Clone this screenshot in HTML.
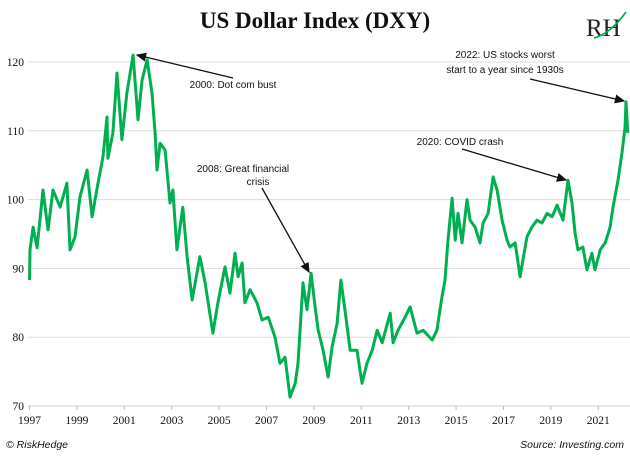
<!DOCTYPE html>
<html><head><meta charset="utf-8"><style>
html,body{margin:0;padding:0;background:#fff;}
body{width:630px;height:456px;overflow:hidden;position:relative;}
svg{position:absolute;left:0;top:0;}
</style></head><body>
<svg width="630" height="456" viewBox="0 0 630 456">
<defs><marker id="ah" markerWidth="8" markerHeight="8" refX="7" refY="4" orient="auto"><path d="M0,0.5 L8,4 L0,7.5 Z" fill="#111"/></marker></defs>
<text x="315" y="28" text-anchor="middle" font-family="Liberation Serif, serif" font-weight="bold" font-size="23" fill="#111">US Dollar Index (DXY)</text>
<g>
<text x="586" y="36" font-family="Liberation Serif, serif" font-size="25" fill="#222">RH</text>
<path d="M594,38 Q610,34 626,12" stroke="#00b050" stroke-width="1.8" fill="none"/>
</g>
<g id="grid"></g>
<g id="yticks"></g>
<g id="xticks"></g>
<path id="line" fill="none" stroke="#00b050" stroke-width="3" stroke-linejoin="round"/>
<g font-family="Liberation Sans, sans-serif" font-size="10" fill="#111">
<text x="233" y="88" text-anchor="middle">2000:  Dot com bust</text>
<line x1="233" y1="78" x2="137" y2="55" stroke="#111" stroke-width="1.3" marker-end="url(#ah)"/>
<text x="243" y="172" text-anchor="middle">2008:  Great financial</text>
<text x="258" y="185" text-anchor="middle">crisis</text>
<line x1="262" y1="188" x2="309" y2="272" stroke="#111" stroke-width="1.3" marker-end="url(#ah)"/>
<text x="460" y="145" text-anchor="middle">2020:  COVID crash</text>
<line x1="462" y1="149" x2="566" y2="180" stroke="#111" stroke-width="1.3" marker-end="url(#ah)"/>
<text x="505" y="58" text-anchor="middle">2022:  US stocks worst</text>
<text x="505" y="73" text-anchor="middle">start to a year since 1930s</text>
<line x1="530" y1="79" x2="624" y2="101" stroke="#111" stroke-width="1.3" marker-end="url(#ah)"/>
</g>
<text x="6" y="448" font-family="Liberation Sans, sans-serif" font-style="italic" font-size="10.5" fill="#111">© RiskHedge</text>
<text x="624" y="448" text-anchor="end" font-family="Liberation Sans, sans-serif" font-style="italic" font-size="10.5" fill="#111">Source: Investing.com</text>
</svg>
<script>
const years=[1997.0,1997.02,1997.15,1997.32,1997.44,1997.57,1997.78,1997.99,1998.29,1998.58,1998.71,1998.92,1999.13,1999.43,1999.64,1999.89,2000.10,2000.27,2000.31,2000.52,2000.69,2000.90,2001.11,2001.37,2001.58,2001.75,2001.96,2002.17,2002.30,2002.38,2002.51,2002.72,2002.93,2003.05,2003.22,2003.47,2003.65,2003.86,2004.19,2004.41,2004.74,2004.95,2005.25,2005.46,2005.67,2005.80,2005.97,2006.09,2006.31,2006.60,2006.81,2007.07,2007.36,2007.57,2007.78,2007.99,2008.21,2008.33,2008.54,2008.71,2008.88,2009.05,2009.18,2009.39,2009.60,2009.77,2009.98,2010.14,2010.31,2010.53,2010.82,2011.03,2011.24,2011.46,2011.67,2011.88,2012.22,2012.34,2012.55,2012.85,2013.06,2013.35,2013.61,2013.99,2014.19,2014.40,2014.53,2014.66,2014.83,2014.96,2015.08,2015.25,2015.46,2015.59,2015.80,2016.01,2016.14,2016.35,2016.56,2016.73,2016.94,2017.15,2017.27,2017.49,2017.70,2017.82,2017.99,2018.20,2018.41,2018.62,2018.84,2019.05,2019.26,2019.51,2019.72,2019.89,2020.02,2020.14,2020.35,2020.52,2020.73,2020.86,2021.08,2021.29,2021.50,2021.62,2021.83,2022.00,2022.13,2022.17,2022.24];
const values=[88.3,92.7,96,93,97,101.4,95.6,101.4,98.9,102.4,92.7,94.6,100.4,104.3,97.5,102.4,106.2,112,106,109.7,118.4,108.7,115.5,121,111.6,117.4,120.3,115.5,109.7,104.3,108.2,107.2,99.5,101.4,92.7,98.9,91.7,85.4,91.7,87.9,80.6,85,90.2,86.4,92.2,88.8,90.8,85,86.9,85,82.5,82.9,80,76.2,77.1,71.3,73.3,76.2,87.9,84,89.3,84.4,81,78.1,74.2,78.6,82,88.3,84,78.1,78.1,73.3,76.2,78.1,81,79.2,83.5,79.2,81,82.9,84.4,80.6,81,79.6,81,85.8,88.3,94.1,100.2,94.1,98,93.7,100,97,96,93.7,96.6,98,103.3,101.4,97,94.1,93.1,93.7,88.8,91.2,94.6,96,97,96.6,98,97.5,99.2,97,102.8,99.5,95.1,92.7,93.1,89.8,92.2,89.8,92.7,93.7,96,98.9,102.8,106.8,110.6,114.2,109.7];
const yTicks=[70,80,90,100,110,120];
const xTicks=[1997,1999,2001,2003,2005,2007,2009,2011,2013,2015,2017,2019,2021];
const NS="http://www.w3.org/2000/svg";
function xs(y){return 29.5+(y-1997)*23.7;}
function ys(v){return 406-(v-70)*6.88;}
const grid=document.getElementById('grid'),yt=document.getElementById('yticks'),xt=document.getElementById('xticks');
yTicks.forEach(v=>{
 const l=document.createElementNS(NS,'line');
 l.setAttribute('x1',28);l.setAttribute('x2',630);l.setAttribute('y1',ys(v));l.setAttribute('y2',ys(v));
 l.setAttribute('stroke',v===70?'#cfcfcf':'#dcdcdc');l.setAttribute('stroke-width',1);
 
 
 grid.appendChild(l);
 const t=document.createElementNS(NS,'text');
 t.setAttribute('x',24);t.setAttribute('y',ys(v)+4);t.setAttribute('text-anchor','end');
 t.setAttribute('font-family','Liberation Serif, serif');t.setAttribute('font-size','11.5');t.setAttribute('fill','#111');
 t.textContent=v;
 
 
 yt.appendChild(t);
});
xTicks.forEach(y=>{
 const l=document.createElementNS(NS,'line');
 l.setAttribute('x1',xs(y));l.setAttribute('x2',xs(y));l.setAttribute('y1',406);l.setAttribute('y2',410);
 l.setAttribute('stroke','#bbb');
 
 
 xt.appendChild(l);
 const t=document.createElementNS(NS,'text');
 t.setAttribute('x',xs(y));t.setAttribute('y',424);t.setAttribute('text-anchor','middle');
 t.setAttribute('font-family','Liberation Serif, serif');t.setAttribute('font-size','11.5');t.setAttribute('fill','#111');
 t.textContent=y;
 
 
 xt.appendChild(t);
});
document.getElementById('line').setAttribute('d',years.map((y,i)=>(i?'L':'M')+xs(y).toFixed(1)+','+ys(values[i]).toFixed(1)).join(' '));
</script>
</body></html>
